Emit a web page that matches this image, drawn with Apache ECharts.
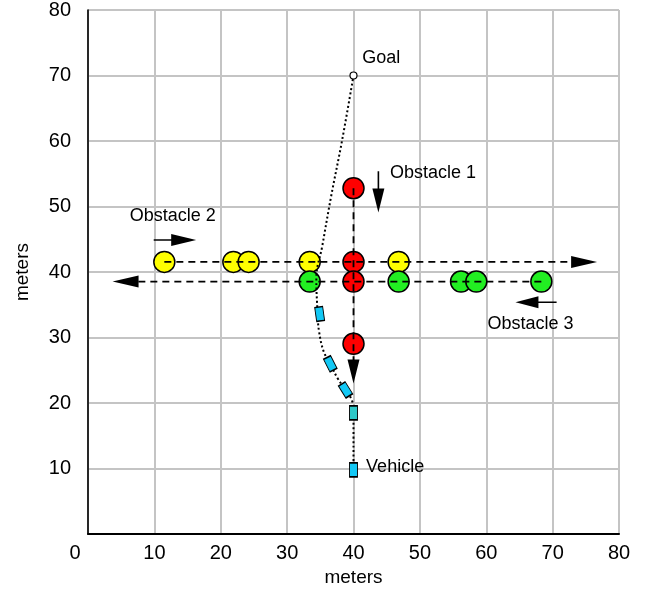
<!DOCTYPE html>
<html>
<head>
<meta charset="utf-8">
<script src="https://cdn.jsdelivr.net/npm/echarts@6/dist/echarts.min.js"></script>
<style>html,body{margin:0;padding:0;background:#fff}#c{width:657px;height:592px}</style>
</head>
<body>
<div id="c"></div>
<script>
// ---- data (meters) ----
const xTicks = [0, 10, 20, 30, 40, 50, 60, 70, 80];
const goal = [40, 70];
const vehiclePath = [[40,9.8],[40,18.5],[39.8,20.3],[38.8,22],[37.6,23.8],[36.5,26],[35.5,27.9],[34.8,31],[34.6,33.6],[34.4,39],[35.3,44],[36.6,51.4],[38.3,60.2],[40,70]];
const vehiclePoses = [[40,9.8,0],[40,18.5,0],[38.8,22,32],[36.5,26,27],[34.9,33.6,8]]; // x, y, heading (deg)
const obstacle1X = 40;
const obstacle1Y = [52.8, 41.55, 38.55, 29.05];
const obstacle2Y = 41.55;
const obstacle2X = [11.5, 21.9, 24.2, 33.4, 46.8];
const obstacle3Y = 38.55;
const obstacle3X = [33.4, 46.8, 56.2, 58.5, 68.3];
const obstacle1Track = [[40,52.8],[40,23.0]];
const obstacle2Track = [[11.5,41.55],[76.7,41.55]];
const obstacle3Track = [[68.3,38.55],[3.7,38.55]];
const obstacle1Dir = [[43.75,55.4],[43.75,49.1]];
const obstacle2Dir = [[9.9,44.9],[16.3,44.9]];
const obstacle3Dir = [[70.6,35.4],[64.4,35.4]];
const labelNames = ['Goal', 'Vehicle', 'Obstacle 1', 'Obstacle 2', 'Obstacle 3'];
const labelAnchors = [[41.3,72.7],[41.9,10.2],[45.5,55.1],[6.3,48.6],[60.2,32.1]];

// ---- layout / style ----
const G = {left: 88, top: 7, width: 531, height: 531};
const pxPerX = G.width / 80;
const pxPerY = G.height / 80;
const FONT = 'Liberation Sans';
const poseColors = ['#12c8f5', '#2ec8c8', '#12c8f5', '#12c8f5', '#12c8f5'];

function arrow(track, headLen, headW, lineType, z) {
  const [a, b] = track;
  const dxp = (b[0]-a[0]) * pxPerX, dyp = (b[1]-a[1]) * pxPerY;
  const L = Math.hypot(dxp, dyp);
  const ux = dxp / L, uy = dyp / L;
  const c = [b[0] - ux*headLen/2/pxPerX, b[1] - uy*headLen/2/pxPerY];
  const rot = Math.atan2(uy, ux) * 180 / Math.PI - 90;
  return [
    {type:'line', data:[a, c], showSymbol:false, symbol:'none', z:z, silent:true,
     lineStyle:{color:'#000', width: lineType === 'solid' ? 1.6 : 1.8, type: lineType}},
    {type:'scatter', data:[c], symbol:'triangle', symbolSize:[headW, headLen], symbolRotate: rot, z:z,
     itemStyle:{color:'#000', opacity:1}, silent:true}
  ];
}

const series = [];
// obstacle circles
series.push({type:'scatter', data: obstacle2X.map(x => [x, obstacle2Y]), symbolSize:21, z:2,
  itemStyle:{color:'#ffff00', borderColor:'#000', borderWidth:1.5, opacity:1}});
series.push({type:'scatter', data: obstacle3X.map(x => [x, obstacle3Y]), symbolSize:21, z:2,
  itemStyle:{color:'#22ee22', borderColor:'#000', borderWidth:1.5, opacity:1}});
series.push({type:'scatter', data: obstacle1Y.map(y => [obstacle1X, y]), symbolSize:21, z:3,
  itemStyle:{color:'#ff0000', borderColor:'#000', borderWidth:1.5, opacity:1}});
// tracks with arrowheads
series.push(...arrow(obstacle1Track, 24, 12, [7,5], 4));
series.push(...arrow(obstacle2Track, 26, 12, [7,5], 4));
series.push(...arrow(obstacle3Track, 26, 12, [7,5], 4));
series.push(...arrow(obstacle1Dir, 24, 12, 'solid', 4));
series.push(...arrow(obstacle2Dir, 25, 12, 'solid', 4));
series.push(...arrow(obstacle3Dir, 23, 12, 'solid', 4));
// vehicle path
series.push({type:'line', data: vehiclePath, smooth:0.4, showSymbol:false, symbol:'none', z:5,
  lineStyle:{color:'#000', width:2, type:[2,2.5]}});
// vehicle poses
series.push({type:'scatter', z:6,
  data: vehiclePoses.map((p, i) => ({value:[p[0], p[1]], symbolRotate:p[2], itemStyle:{color:poseColors[i]}})),
  symbol:'rect', symbolSize:[8,14], itemStyle:{borderColor:'#000', borderWidth:1.2, opacity:1}});
// goal
series.push({type:'scatter', data:[goal], symbol:'circle', symbolSize:7, z:6,
  itemStyle:{color:'#fff', borderColor:'#000', borderWidth:1.2, opacity:1}});
// text labels
series.push({type:'scatter', z:7, symbolSize:0, silent:true,
  data: labelNames.map((n, i) => ({name:n, value:labelAnchors[i]})),
  itemStyle:{opacity:1},
  label:{show:true, position:'right', distance:0, formatter:'{b}', color:'#000', opacity:1,
    fontFamily:FONT, fontSize:18}});

const chart = echarts.init(document.getElementById('c'), null, {renderer:'canvas'});
chart.setOption({
  animation:false,
  backgroundColor:'#fff',
  grid:{left:G.left, top:G.top, width:G.width, height:G.height, containLabel:false},
  xAxis:{type:'value', min:0, max:80, interval:10,
    name:'meters', nameLocation:'middle', nameGap:30,
    nameTextStyle:{color:'#000', fontFamily:FONT, fontSize:19},
    axisLine:{show:true, onZero:false, lineStyle:{color:'#000', width:2}},
    axisTick:{show:false},
    axisLabel:{color:'#000', fontFamily:FONT, fontSize:20, margin:9,
      formatter: v => v === xTicks[0] ? '{z|' + v + '}' : String(v),
      rich:{z:{fontFamily:FONT, fontSize:20, color:'#000', padding:[0,26,0,0]}}},
    splitLine:{show:true, lineStyle:{color:'#c4c4c4', width:2}}},
  yAxis:{type:'value', min:0, max:80, interval:10,
    name:'meters', nameLocation:'middle', nameGap:56, nameRotate:90,
    nameTextStyle:{color:'#000', fontFamily:FONT, fontSize:19},
    axisLine:{show:true, onZero:false, lineStyle:{color:'#000', width:1.6}},
    axisTick:{show:false},
    axisLabel:{color:'#000', fontFamily:FONT, fontSize:20, margin:17, showMinLabel:false},
    splitLine:{show:true, lineStyle:{color:'#c4c4c4', width:2}}},
  series: series
});
</script>
</body>
</html>
